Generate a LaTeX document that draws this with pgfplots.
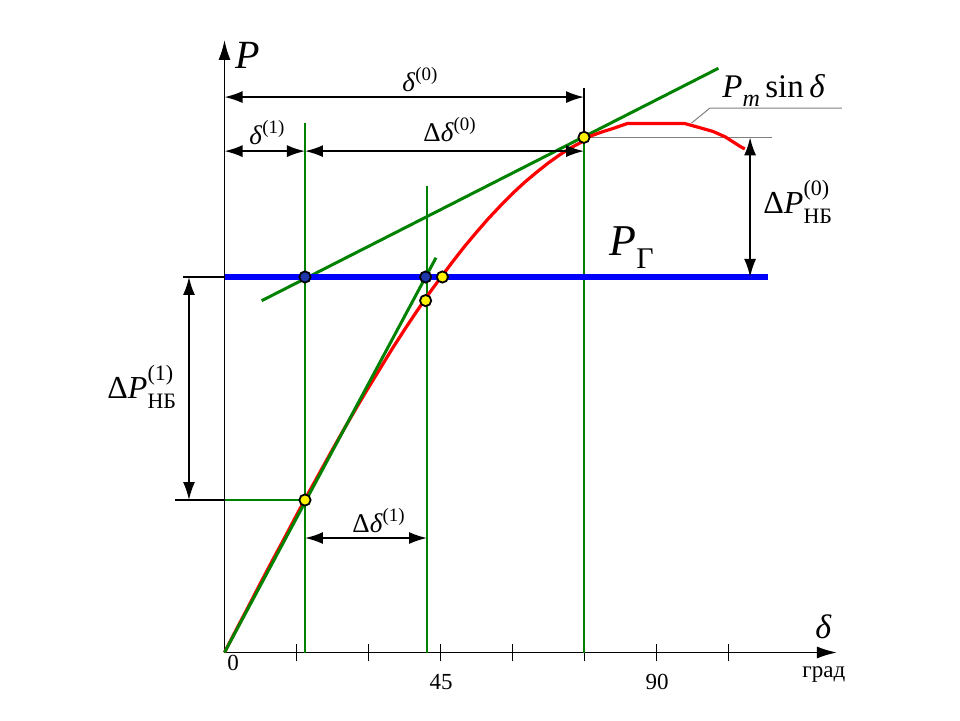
\documentclass[border=0pt]{standalone}
\usepackage{pgfplots}
\pgfplotsset{compat=1.18}
\usepackage{fontspec}
\setmainfont{Liberation Serif}
\usetikzlibrary{arrows.meta}
\definecolor{dgreen}{RGB}{0,130,0}
\definecolor{dblue}{RGB}{30,55,170}
\newcommand{\fs}[1]{\fontsize{#1}{#1}\selectfont}
\newcommand{\PNB}[1]{\textit{P}\makebox[0pt][l]{\raisebox{0.55em}{\fs{11}(#1)}}\raisebox{-0.32em}{\fs{11}НБ}}
\tikzset{dim/.style={line width=0.9pt, black, {Latex[length=9pt,width=6pt]}-{Latex[length=9pt,width=6pt]}}}
\begin{document}
\begin{tikzpicture}[x=1pt,y=1pt]
\useasboundingbox (0,0) rectangle (480,360);
\begin{axis}[
  at={(112.25pt,33.75pt)}, anchor=south west,
  scale only axis, width=306.24pt, height=306.26pt,
  xmin=0, xmax=127.6, ymin=0, ymax=1.1557,
  axis lines=left, clip=false,
  axis line style={line width=0.9pt, black},
  every outer x axis line/.append style={-{Latex[length=10pt,width=6pt]}},
  every outer y axis line/.append style={-{Latex[length=10pt,width=6pt]}},
  xtick={15,30,45,60,75,90,105}, xticklabels={}, ytick=\empty,
  tick align=center, major tick length=8.5pt,
  tick style={line width=0.9pt, black},
]
% vertical construction lines
\addplot[dgreen, line width=0.9pt] coordinates {(16.77,0) (16.77,0.999)};
\addplot[dgreen, line width=0.9pt] coordinates {(42.19,0) (42.19,0.880)};
\addplot[dgreen, line width=0.9pt] coordinates {(74.9,0) (74.9,0.972)};
\addplot[black, line width=0.9pt] coordinates {(74.9,0.972) (74.9,1.065)};
\addplot[dgreen, line width=0.9pt] coordinates {(0,0.2877) (16.77,0.2877)};
\addplot[black, line width=0.9pt] coordinates {(-10.3,0.2877) (0,0.2877)};
\addplot[black, line width=0.9pt] coordinates {(-8.65,0.7085) (0,0.7085)};
% thin gray lines
\addplot[gray, line width=0.5pt] coordinates {(74.9,0.972) (114.1,0.972)};
\addplot[gray, line width=0.5pt] coordinates {(97.3,0.999) (101.1,1.027) (128.6,1.027)};
% tangent line
\addplot[dgreen, line width=1.5pt] coordinates {(7.75,0.6638) (102.9,1.1023)};
% red characteristic
\addplot[red, line width=1.6pt] coordinates {
(0,0) (2.5,0.044) (5,0.087) (7.5,0.131) (10,0.174) (12.5,0.216) (15,0.259) (17.5,0.301)
(20,0.342) (22.5,0.383) (25,0.423) (27.5,0.462) (30,0.500) (32.5,0.537) (35,0.574)
(37.5,0.609) (40,0.643) (42.5,0.676) (45,0.707) (47.5,0.737) (50,0.766) (52.5,0.793)
(55,0.819) (57.5,0.843) (60,0.866) (62.5,0.887) (65,0.906) (67.5,0.924) (70,0.940)
(72.5,0.954) (75,0.966) (76.1,0.974) (78.9,0.983) (80.7,0.988) (83.9,0.998) (95.9,0.998)
(99.1,0.990) (101.8,0.983) (104.3,0.973) (107.4,0.955) (108.4,0.950)};
\addplot[dgreen, line width=1.5pt] coordinates {(0,0) (44.06,0.7449)};
% P_G line
\addplot[blue, line width=2.6pt] coordinates {(0,0.7085) (113.2,0.7085)};
% points
\addplot[only marks, mark=*, mark size=2.8pt, mark options={fill=dblue, draw=black, line width=0.9pt}]
  coordinates {(16.77,0.7085) (41.9,0.7085)};
\addplot[only marks, mark=*, mark size=2.8pt, mark options={fill=yellow, draw=black, line width=0.9pt}]
  coordinates {(74.9,0.972) (16.77,0.2877) (41.9,0.664) (45.4,0.7085)};
% dimension arrows
\draw[dim] (axis cs:0,1.048) -- (axis cs:74.9,1.048);
\draw[dim] (axis cs:0,0.946) -- (axis cs:16.77,0.946);
\draw[dim] (axis cs:16.77,0.946) -- (axis cs:74.9,0.946);
\draw[dim] (axis cs:16.77,0.216) -- (axis cs:42.19,0.216);
\draw[dim] (axis cs:109.5,0.7085) -- (axis cs:109.5,0.972);
\draw[dim] (axis cs:-7.4,0.7085) -- (axis cs:-7.4,0.2877);
\end{axis}
% labels (pixel coordinates halved)
\node[anchor=base west, inner sep=0] at ({235/2},{(720-68)/2}) {\fs{20}\textit{P}};
\node[anchor=base west, inner sep=0] at ({402/2},{(720-91)/2}) {\fs{13.5}\textit{δ}\textsuperscript{(0)}};
\node[anchor=base west, inner sep=0] at ({249/2},{(720-144)/2}) {\fs{13.5}\textit{δ}\textsuperscript{(1)}};
\node[anchor=base west, inner sep=0] at ({423/2},{(720-141)/2}) {\fs{13.5}Δ\textit{δ}\textsuperscript{(0)}};
\node[anchor=base west, inner sep=0] at ({352/2},{(720-532)/2}) {\fs{13.5}Δ\textit{δ}\textsuperscript{(1)}};
\node[anchor=base west, inner sep=0] at ({722/2},{(720-97)/2}) {\fs{16.5}\textit{P}\raisebox{-0.3em}{\fs{12}\textit{m}}\,sin\,\textit{δ}};
\node[anchor=base west, inner sep=0] at ({609/2},{(720-255)/2}) {\fs{22}\textit{P}\raisebox{-0.3em}{\fs{15}Г}};
\node[anchor=base west, inner sep=0] at ({763/2},{(720-213)/2}) {\fs{16}Δ\PNB{0}};
\node[anchor=base west, inner sep=0] at ({107/2},{(720-398)/2}) {\fs{16}Δ\PNB{1}};
\node[anchor=base west, inner sep=0] at ({815/2},{(720-638)/2}) {\fs{17}\textit{δ}};
\node[anchor=base, inner sep=0] at ({233/2},{(720-670)/2}) {\fs{11.5}0};
\node[anchor=base, inner sep=0] at ({441/2},{(720-689)/2}) {\fs{11.5}45};
\node[anchor=base, inner sep=0] at ({657/2},{(720-689)/2}) {\fs{11.5}90};
\node[anchor=base west, inner sep=0] at ({802/2},{(720-677)/2}) {\fs{11.5}град};
\end{tikzpicture}
\end{document}
